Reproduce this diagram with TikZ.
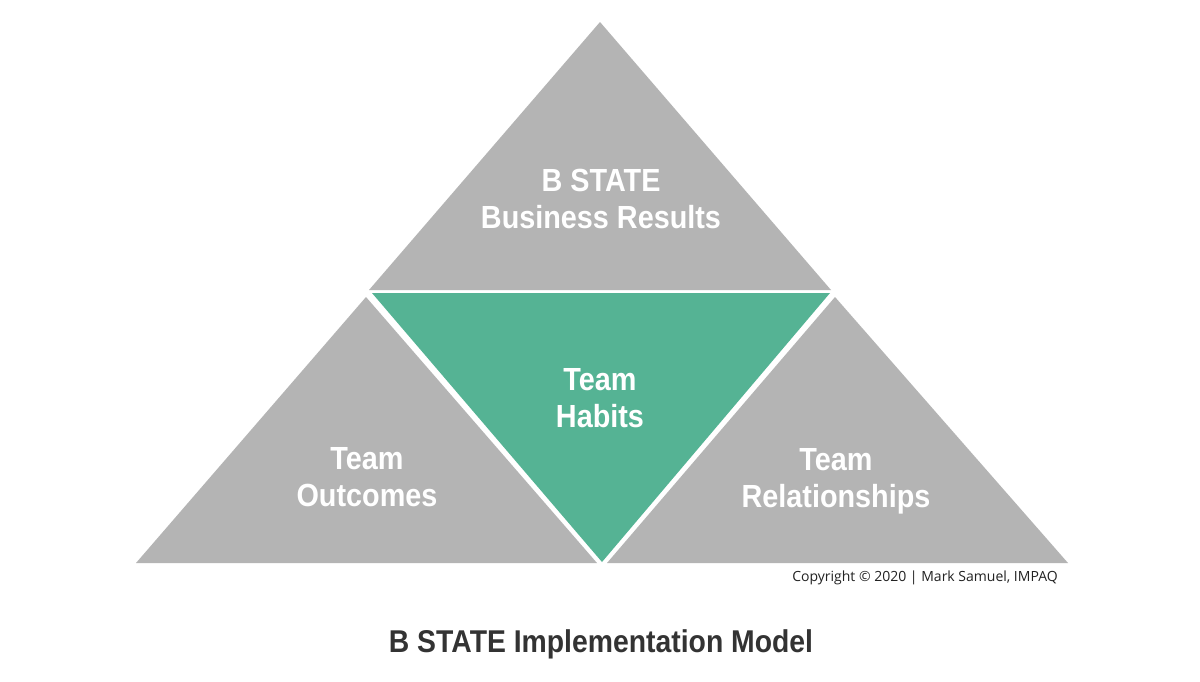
\documentclass[tikz,border=0pt]{standalone}
\usepackage{fontspec}
\setmainfont{Liberation Sans}
\newfontfamily\boldcond[FakeStretch=0.9]{Liberation Sans Bold}
\newfontfamily\copyfont{Open Sans}
\definecolor{tgray}{HTML}{B4B4B4}
\definecolor{tgreen}{HTML}{55B394}
\definecolor{ttitle}{HTML}{333333}
\definecolor{tcopy}{HTML}{222222}
\begin{document}
\begin{tikzpicture}[x=1pt,y=-1pt,
  piece/.style={fill=tgray},
  hub/.style={fill=tgreen},
  lbl/.style={text=white,font=\boldcond\fontsize{32}{37}\selectfont,align=center,inner sep=0pt},
  ttl/.style={text=ttitle,font=\boldcond\fontsize{31.5}{37}\selectfont,inner sep=0pt},
  cpy/.style={text=tcopy,font=\copyfont\fontsize{14}{16}\selectfont,inner sep=0pt}]
\useasboundingbox[fill=white] (0,0) rectangle (1200,681);
% triangles
\fill[piece] (600,22) -- (369,290) -- (831,290) -- cycle;
\fill[hub] (372,293) -- (830,293) -- (602,562) -- cycle;
\fill[piece] (366,297) -- (136,563) -- (597,563) -- cycle;
\fill[piece] (835,297) -- (607,563) -- (1068,563) -- cycle;
% labels
\node[lbl] (top) at (601,199) {B STATE\\Business Results};
\node[lbl] (mid) at (600,398) {Team\\Habits};
\node[lbl] (left) at (367,477) {Team\\Outcomes};
\node[lbl] (right) at (836,481) {Team\\Relationships};
\node[cpy] (copy) at (925,578) {Copyright © 2020 | Mark Samuel, IMPAQ};
\node[ttl] (title) at (601,644) {B STATE Implementation Model};
\end{tikzpicture}
\end{document}
